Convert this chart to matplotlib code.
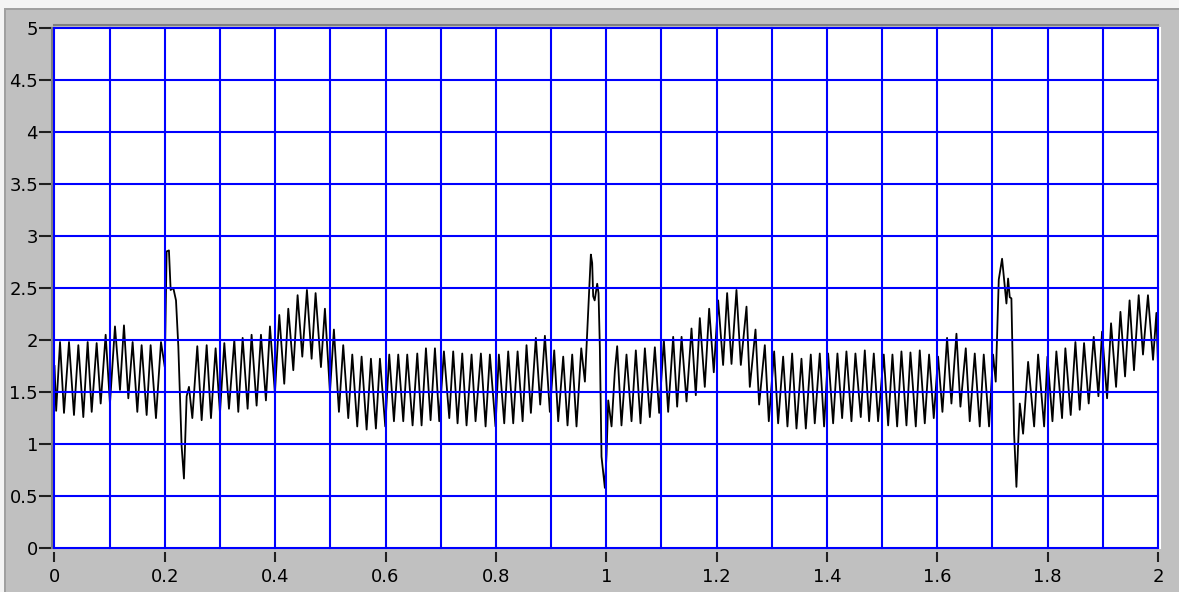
import numpy as np
from matplotlib import pyplot as plt
from matplotlib.ticker import MultipleLocator, FuncFormatter
from matplotlib.patches import Rectangle

# Signal extrema (time in s, amplitude)
t_ext = [
    0.000, 0.003, 0.0100, 0.0172, 0.0263, 0.0353, 0.0432, 0.0522, 0.0601, 0.0674,
    0.0764, 0.0837, 0.0927, 0.1005, 0.1096, 0.1187, 0.1259, 0.1338, 0.1416, 0.1501,
    0.1579, 0.1670, 0.1742, 0.1839, 0.1930, 0.1999, 0.2032, 0.2074, 0.2105, 0.2153,
    0.2202, 0.2244, 0.2304, 0.2346, 0.2395, 0.2437, 0.2498, 0.2588, 0.2667, 0.2758,
    0.2836, 0.2920, 0.2999, 0.3078, 0.3162, 0.3259, 0.3331, 0.3410, 0.3500, 0.3572,
    0.3663, 0.3742, 0.3832, 0.3905, 0.3995, 0.4074, 0.4164, 0.4237, 0.4328, 0.4406,
    0.4491, 0.4575, 0.4660, 0.4732, 0.4829, 0.4901, 0.4992, 0.5064, 0.5155, 0.5233,
    0.5324, 0.5397, 0.5487, 0.5566, 0.5657, 0.5735, 0.5825, 0.5898, 0.5995, 0.6067,
    0.6152, 0.6230, 0.6321, 0.6393, 0.6490, 0.6575, 0.6653, 0.6732, 0.6816, 0.6895,
    0.6973, 0.7058, 0.7155, 0.7226, 0.7305, 0.7390, 0.7468, 0.7559, 0.7631, 0.7728,
    0.7813, 0.7891, 0.7993, 0.8054, 0.8151, 0.8223, 0.8314, 0.8393, 0.8484, 0.8555,
    0.8634, 0.8724, 0.8803, 0.8888, 0.8978, 0.9057, 0.9129, 0.9220, 0.9298, 0.9383,
    0.9461, 0.9547, 0.9613, 0.9721, 0.9745, 0.9763, 0.9790, 0.9836, 0.9860, 0.9884,
    0.9914, 0.9975, 1.0005, 1.0036, 1.0096, 1.0156, 1.0198, 1.0276, 1.0367, 1.0458,
    1.0536, 1.0621, 1.0700, 1.0790, 1.0881, 1.0959, 1.1044, 1.1122, 1.1213, 1.1285,
    1.1365, 1.1455, 1.1545, 1.1623, 1.1696, 1.1786, 1.1865, 1.1949, 1.2028, 1.2118,
    1.2191, 1.2270, 1.2360, 1.2439, 1.2542, 1.2602, 1.2705, 1.2771, 1.2874, 1.2946,
    1.3043, 1.3115, 1.3206, 1.3284, 1.3369, 1.3448, 1.3538, 1.3617, 1.3707, 1.3779,
    1.3870, 1.3948, 1.4021, 1.4112, 1.4190, 1.4275, 1.4353, 1.4444, 1.4516, 1.4613,
    1.4686, 1.4764, 1.4849, 1.4927, 1.5030, 1.5109, 1.5187, 1.5272, 1.5350, 1.5441,
    1.5513, 1.5610, 1.5682, 1.5773, 1.5851, 1.5936, 1.6014, 1.6093, 1.6177, 1.6256,
    1.6347, 1.6419, 1.6516, 1.6588, 1.6679, 1.6769, 1.6842, 1.6938, 1.7011, 1.7059,
    1.7114, 1.7174, 1.7210, 1.7253, 1.7283, 1.7313, 1.7343, 1.7374, 1.7392, 1.7434,
    1.7465, 1.7495, 1.7525, 1.7555, 1.7646, 1.7755, 1.7827, 1.7936, 1.7996, 1.8087,
    1.8158, 1.8261, 1.8321, 1.8418, 1.8503, 1.8581, 1.8660, 1.8744, 1.8835, 1.8920,
    1.8986, 1.9077, 1.9149, 1.9240, 1.9319, 1.9403, 1.9485, 1.9565, 1.9650, 1.9728,
    1.9818, 1.9910, 1.9971, 2.0000,
]
v_ext = [
    1.75, 1.32, 1.98, 1.30, 1.98, 1.28, 1.95, 1.26, 1.98, 1.31,
    1.97, 1.39, 2.05, 1.39, 2.13, 1.52, 2.14, 1.44, 1.98, 1.31,
    1.95, 1.28, 1.95, 1.25, 1.98, 1.74, 2.85, 2.86, 2.48, 2.50,
    2.38, 1.94, 0.98, 0.67, 1.46, 1.55, 1.25, 1.94, 1.23, 1.95,
    1.25, 1.92, 1.30, 1.97, 1.34, 2.00, 1.31, 2.02, 1.34, 2.05,
    1.37, 2.05, 1.42, 2.13, 1.49, 2.24, 1.58, 2.30, 1.71, 2.43,
    1.84, 2.48, 1.82, 2.45, 1.74, 2.30, 1.50, 2.10, 1.31, 1.95,
    1.25, 1.86, 1.17, 1.84, 1.14, 1.82, 1.15, 1.82, 1.17, 1.86,
    1.22, 1.86, 1.22, 1.86, 1.18, 1.87, 1.18, 1.92, 1.23, 1.92,
    1.22, 1.89, 1.25, 1.89, 1.20, 1.87, 1.18, 1.86, 1.22, 1.87,
    1.17, 1.86, 1.17, 1.86, 1.20, 1.89, 1.20, 1.89, 1.22, 1.95,
    1.30, 2.02, 1.38, 2.04, 1.31, 1.90, 1.22, 1.84, 1.18, 1.86,
    1.17, 1.92, 1.60, 2.82, 2.74, 2.42, 2.38, 2.54, 2.45, 1.93,
    0.88, 0.58, 0.90, 1.42, 1.17, 1.70, 1.94, 1.18, 1.86, 1.22,
    1.90, 1.20, 1.92, 1.26, 1.93, 1.30, 2.00, 1.31, 2.03, 1.36,
    2.03, 1.41, 2.11, 1.47, 2.21, 1.55, 2.30, 1.69, 2.38, 1.76,
    2.45, 1.77, 2.48, 1.76, 2.32, 1.55, 2.10, 1.38, 1.95, 1.22,
    1.89, 1.20, 1.84, 1.17, 1.87, 1.15, 1.82, 1.15, 1.86, 1.20,
    1.87, 1.17, 1.87, 1.20, 1.87, 1.25, 1.89, 1.22, 1.87, 1.26,
    1.90, 1.22, 1.87, 1.22, 1.86, 1.18, 1.86, 1.17, 1.89, 1.18,
    1.88, 1.17, 1.90, 1.20, 1.86, 1.25, 1.84, 1.31, 2.02, 1.39,
    2.06, 1.36, 1.92, 1.22, 1.87, 1.17, 1.86, 1.17, 1.86, 1.60,
    2.58, 2.78, 2.58, 2.35, 2.59, 2.41, 2.40, 1.60, 1.10, 0.59,
    1.01, 1.39, 1.25, 1.10, 1.79, 1.17, 1.86, 1.17, 1.84, 1.22,
    1.89, 1.25, 1.92, 1.28, 1.98, 1.33, 1.97, 1.39, 2.03, 1.46,
    2.08, 1.44, 2.16, 1.55, 2.27, 1.65, 2.38, 1.71, 2.43, 1.86,
    2.43, 1.81, 2.26, 1.75,
]

x_range = (0, 2)
y_range = (0, 5)
x_label_step = 0.2
x_grid_step = 0.1
y_step = 0.5

W, H = 1179, 592
fig = plt.figure(figsize=(W / 100, H / 100), dpi=100, facecolor="#c0c0c0")

# window bevel along top and left edges
fig.patches.append(Rectangle((0, 1 - 8 / H), 1, 8 / H, transform=fig.transFigure,
                             facecolor="#f4f4f4", edgecolor="none", zorder=0))
fig.patches.append(Rectangle((0, 0), 4 / W, 1, transform=fig.transFigure,
                             facecolor="#f4f4f4", edgecolor="none", zorder=0))
fig.patches.append(Rectangle((4 / W, 0), 1.5 / W, 1 - 8 / H, transform=fig.transFigure,
                             facecolor="#a0a0a0", edgecolor="none", zorder=0))
fig.patches.append(Rectangle((4 / W, 1 - 9.5 / H), 1 - 4 / W, 1.5 / H, transform=fig.transFigure,
                             facecolor="#a0a0a0", edgecolor="none", zorder=0))

ax = fig.add_axes([54.5 / W, 43.7 / H, 1103.5 / W, 520.8 / H])
ax.set_facecolor("white")

ax.plot(t_ext, v_ext, color="black", lw=1.3, zorder=2)

# blue grid drawn on top of the trace, full width at the borders
for gx in np.arange(x_range[0], x_range[1] + 1e-9, x_grid_step):
    ax.axvline(gx, color="#0000ff", lw=1.5, zorder=4, clip_on=False)
for gy in np.arange(y_range[0], y_range[1] + 1e-9, y_step):
    ax.axhline(gy, color="#0000ff", lw=1.5, zorder=4, clip_on=False)

ax.set_xlim(*x_range)
ax.set_ylim(*y_range)
ax.xaxis.set_major_locator(MultipleLocator(x_label_step))
ax.yaxis.set_major_locator(MultipleLocator(y_step))
fmt = FuncFormatter(lambda v, pos: f"{v:g}")
ax.xaxis.set_major_formatter(fmt)
ax.yaxis.set_major_formatter(fmt)

ax.spines["left"].set_position(("outward", 1.5))
ax.spines["top"].set_position(("outward", 1.5))
ax.spines["right"].set_position(("outward", 1.5))
ax.spines["bottom"].set_position(("outward", 2.5))
ax.spines["left"].set_color("#808080")
ax.spines["top"].set_color("#808080")
ax.spines["right"].set_color("white")
ax.spines["bottom"].set_color("none")
for s in ax.spines.values():
    s.set_linewidth(1.5)

ax.tick_params(axis="x", direction="out", length=7, width=1.5, color="#202020",
               pad=5, labelsize=13, labelcolor="black")
ax.tick_params(axis="y", direction="out", length=9.4, width=1.5, color="#202020",
               pad=1, labelsize=13, labelcolor="black")

fig.savefig("out.png", dpi=100, facecolor=fig.get_facecolor())
